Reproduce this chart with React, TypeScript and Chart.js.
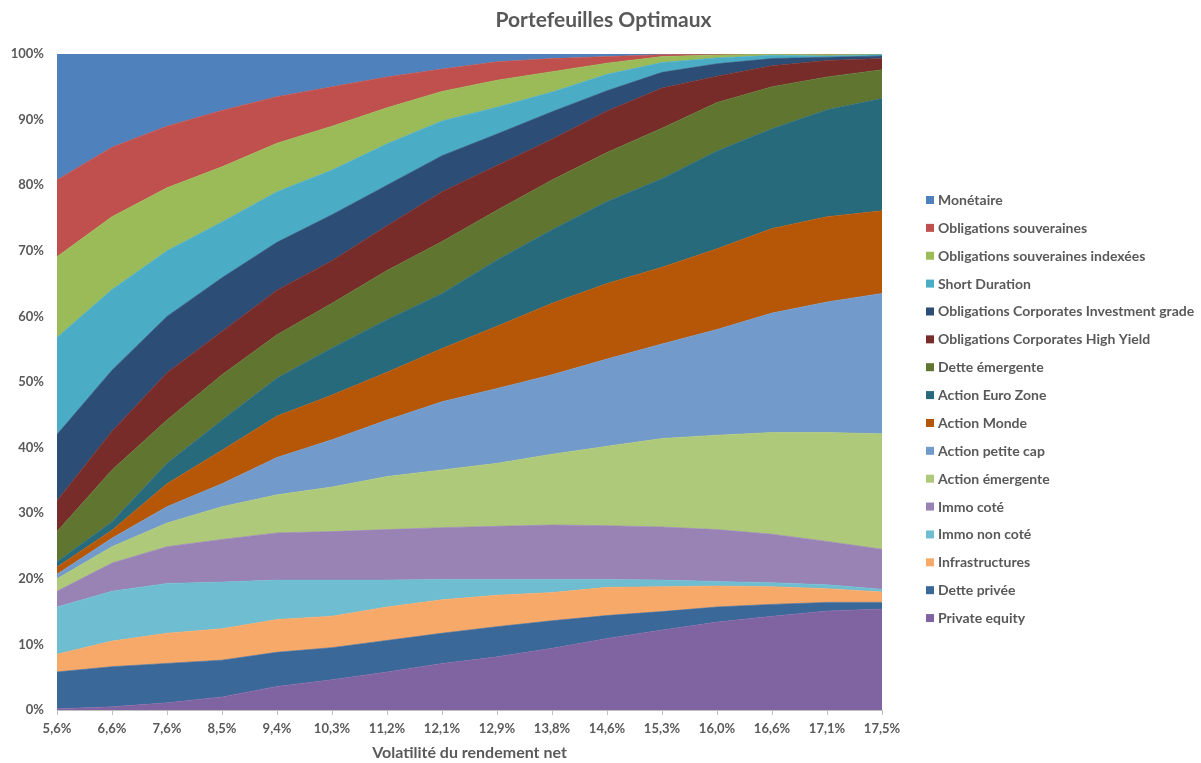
import React, { useEffect, useRef } from 'react';
import { Chart, registerables } from 'chart.js';

Chart.register(...registerables);

const categories = ['5,6%', '6,6%', '7,6%', '8,5%', '9,4%', '10,3%', '11,2%', '12,1%', '12,9%', '13,8%', '14,6%', '15,3%', '16,0%', '16,6%', '17,1%', '17,5%'];

// series listed from bottom of the stack to top
const privateEquity = [0.2, 0.5, 1.1, 2.0, 3.6, 4.6, 5.8, 7.1, 8.1, 9.4, 10.9, 12.2, 13.4, 14.3, 15.1, 15.4];
const dettePrivee = [5.6, 6.1, 6.0, 5.6, 5.2, 4.9, 4.8, 4.6, 4.6, 4.2, 3.5, 2.8, 2.3, 1.8, 1.3, 1.0];
const infrastructures = [2.7, 3.9, 4.6, 4.8, 5.0, 4.8, 5.1, 5.1, 4.8, 4.3, 4.3, 3.8, 3.2, 2.7, 2.1, 1.6];
const immoNonCote = [7.2, 7.6, 7.6, 7.1, 6.0, 5.5, 4.1, 3.1, 2.4, 2.0, 1.2, 1.0, 0.7, 0.6, 0.6, 0.4];
const immoCote = [2.4, 4.3, 5.6, 6.5, 7.2, 7.4, 7.7, 7.9, 8.1, 8.3, 8.2, 8.1, 7.9, 7.4, 6.6, 6.1];
const actionEmergente = [1.9, 2.5, 3.6, 5.0, 5.8, 6.8, 8.1, 8.8, 9.6, 10.8, 12.1, 13.5, 14.4, 15.5, 16.6, 17.6];
const actionPetiteCap = [0.7, 1.3, 2.5, 3.5, 5.7, 7.2, 8.6, 10.4, 11.4, 12.1, 13.3, 14.4, 16.1, 18.2, 19.9, 21.4];
const actionMonde = [1.1, 1.2, 3.5, 5.1, 6.3, 6.8, 7.3, 8.1, 9.5, 10.9, 11.5, 11.7, 12.3, 12.9, 13.0, 12.6];
const actionEuroZone = [0.8, 1.3, 3.1, 4.6, 5.8, 7.2, 8.0, 8.4, 10.1, 11.2, 12.5, 13.5, 14.9, 15.2, 16.3, 17.1];
const detteEmergente = [4.6, 7.9, 6.6, 6.9, 6.6, 6.8, 7.5, 7.9, 7.6, 7.6, 7.5, 7.7, 7.4, 6.4, 5.0, 4.4];
const obligHighYield = [4.7, 5.9, 7.2, 6.6, 6.8, 6.5, 6.8, 7.6, 6.8, 6.2, 6.3, 6.1, 4.0, 3.2, 2.5, 1.7];
const obligInvestGrade = [10.1, 9.3, 8.6, 8.2, 7.3, 7.0, 6.2, 5.5, 4.8, 4.2, 3.1, 2.4, 1.9, 1.1, 0.5, 0.4];
const shortDuration = [14.8, 12.3, 10.0, 8.5, 7.7, 6.8, 6.3, 5.3, 4.1, 3.0, 2.5, 1.5, 0.9, 0.5, 0.2, 0.2];
const obligSouvIndexees = [12.3, 11.1, 9.6, 8.4, 7.4, 6.7, 5.5, 4.5, 4.1, 3.1, 1.7, 0.9, 0.45, 0.15, 0.2, 0.05];
const obligSouveraines = [11.7, 10.6, 9.4, 8.6, 7.1, 6.0, 4.7, 3.4, 2.8, 2.0, 1.0, 0.3, 0.1, 0.02, 0.05, 0.02];
const monetaire = [19.2, 14.2, 11.0, 8.6, 6.5, 5.0, 3.5, 2.3, 1.2, 0.7, 0.4, 0.1, 0.05, 0.03, 0.05, 0.03];

const seriesNames = [
  'Private equity', 'Dette privée', 'Infrastructures', 'Immo non coté', 'Immo coté',
  'Action émergente', 'Action petite cap', 'Action Monde', 'Action Euro Zone', 'Dette émergente',
  'Obligations Corporates High Yield', 'Obligations Corporates Investment grade', 'Short Duration',
  'Obligations souveraines indexées', 'Obligations souveraines', 'Monétaire',
];
const seriesValues = [
  privateEquity, dettePrivee, infrastructures, immoNonCote, immoCote,
  actionEmergente, actionPetiteCap, actionMonde, actionEuroZone, detteEmergente,
  obligHighYield, obligInvestGrade, shortDuration, obligSouvIndexees, obligSouveraines, monetaire,
];
const seriesColors = [
  '#8064A2', '#3A6899', '#F7A96A', '#6FBDD1', '#9983B5',
  '#AFC97A', '#729ACA', '#B65708', '#276A7C', '#5F7530',
  '#772C2A', '#2C4D75', '#4BACC6', '#9BBB59', '#C0504D', '#4F81BD',
];

const yTicks = [0, 10, 20, 30, 40, 50, 60, 70, 80, 90, 100];

const chartTitle = 'Portefeuilles Optimaux';
const xTitle = 'Volatilité du rendement net';

const FONT = 'Lato, "Open Sans", sans-serif';
const TEXT = '#595959';

export default function App() {
  const ref = useRef<HTMLCanvasElement | null>(null);

  useEffect(() => {
    if (!ref.current) return;

    const sideLegendAndTitle = {
      id: 'sideLegendAndTitle',
      afterDraw(chart: any) {
        const c = chart.ctx;
        const ds = chart.data.datasets;
        c.save();
        // title, centred on the whole canvas
        c.font = `bold 21px ${FONT}`;
        c.fillStyle = TEXT;
        c.textAlign = 'center';
        c.textBaseline = 'middle';
        c.fillText(chartTitle, chart.width / 2 + 3, 20);
        // legend, top series first
        c.font = `bold 14px ${FONT}`;
        c.textAlign = 'left';
        const n = ds.length;
        for (let i = 0; i < n; i++) {
          const d = ds[n - 1 - i];
          const y = 200 + i * 27.87;
          c.fillStyle = d.backgroundColor;
          c.fillRect(926, y - 4, 8, 8);
          c.fillStyle = TEXT;
          c.fillText(d.label, 938, y + 0.5);
        }
        c.restore();
      },
    };

    const chart = new Chart(ref.current, {
      type: 'line',
      data: {
        labels: categories,
        datasets: seriesValues.map((vals, i) => ({
          label: seriesNames[i],
          data: vals,
          backgroundColor: seriesColors[i],
          borderColor: seriesColors[i],
          borderWidth: 0.6,
          pointRadius: 0,
          pointHoverRadius: 0,
          tension: 0,
          fill: i === 0 ? 'origin' : '-1',
        })),
      },
      options: {
        responsive: false,
        animation: false,
        events: [],
        layout: { padding: { left: 0, right: 319, top: 54, bottom: 0 } },
        plugins: {
          legend: { display: false },
          tooltip: { enabled: false },
          title: { display: false },
        },
        scales: {
          x: {
            z: 1,
            offset: false,
            afterFit: (s: any) => { s.height = 53; },
            grid: { drawOnChartArea: false, drawTicks: true, tickLength: 5, color: '#BFBFBF' },
            border: { display: true, color: '#BFBFBF' },
            ticks: { color: TEXT, font: { family: FONT, size: 13, weight: 'bold' }, padding: 6, maxRotation: 0, autoSkip: false },
            title: {
              display: true,
              text: xTitle,
              color: TEXT,
              font: { family: FONT, size: 16, weight: 'bold' },
              padding: { top: 0, bottom: 1 },
            },
          },
          y: {
            stacked: true,
            min: 0,
            max: 100,
            afterFit: (s: any) => { s.width = 57; },
            afterBuildTicks: (s: any) => { s.ticks = yTicks.map((v) => ({ value: v })); },
            grid: { drawTicks: false, color: '#D9D9D9' },
            border: { display: false },
            ticks: {
              color: TEXT,
              font: { family: FONT, size: 13, weight: 'bold' },
              padding: 13,
              callback: (v: any) => `${v}%`,
            },
          },
        },
      },
      plugins: [sideLegendAndTitle],
    });

    return () => chart.destroy();
  }, []);

  return (
    <div style={{ position: 'fixed', left: 0, top: 0, width: 1201, height: 763, background: '#fff' }}>
      <canvas ref={ref} width={1201} height={763} style={{ display: 'block' }} />
    </div>
  );
}
